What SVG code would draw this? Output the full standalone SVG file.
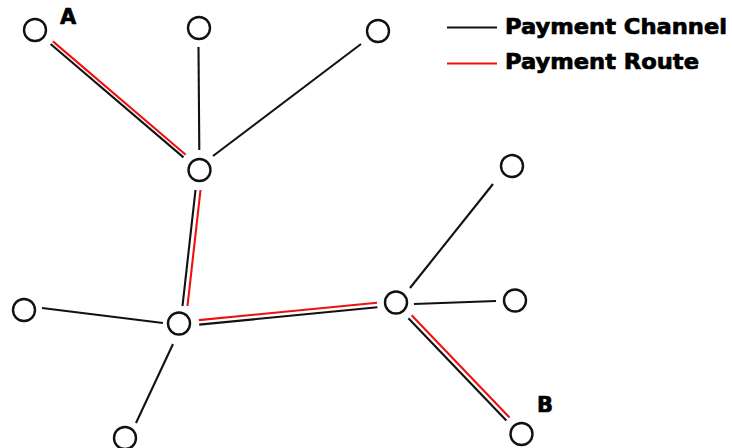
<svg xmlns="http://www.w3.org/2000/svg" width="732" height="448" viewBox="0 0 732 448">
  <style>
    .node { fill: #ffffff; stroke: #111111; stroke-width: 2.4; }
    .chan { stroke: #111111; stroke-width: 2.1; fill: none; stroke-linecap: butt; }
    .route { stroke: #f01010; stroke-width: 2.1; fill: none; stroke-linecap: butt; }
    .lbl { font-family: "DejaVu Sans", "Liberation Sans", sans-serif; font-weight: bold; font-size: 21px; fill: #000000; stroke: #000000; stroke-width: 0.7; stroke-linejoin: round; }
  </style>
  <rect width="732" height="448" fill="#ffffff"/>

  <!-- connectors: channels (black) and the payment route (red, drawn beside its channel) -->
  <g id="connectors">
    <!-- A to hub 1 -->
    <line class="chan" x1="50.6" y1="44.0" x2="183.5" y2="157.4"/>
    <line class="route" x1="52.9" y1="41.4" x2="185.7" y2="154.7"/>
    <!-- top nodes to hub 1 -->
    <line class="chan" x1="198.5" y1="47" x2="199.3" y2="150"/>
    <line class="chan" x1="361" y1="44" x2="213" y2="156"/>
    <!-- hub 1 to hub 2 -->
    <line class="chan" x1="195.5" y1="190" x2="182.5" y2="306"/>
    <line class="route" x1="200.5" y1="190" x2="187.5" y2="306"/>
    <!-- hub 2 leaves -->
    <line class="chan" x1="163" y1="323" x2="42" y2="308"/>
    <line class="chan" x1="173" y1="344" x2="136" y2="423"/>
    <!-- hub 2 to hub 3 -->
    <line class="chan" x1="199.2" y1="324.6" x2="377.4" y2="307.3"/>
    <line class="route" x1="198.8" y1="320.1" x2="377.0" y2="302.8"/>
    <!-- hub 3 leaves -->
    <line class="chan" x1="414" y1="304" x2="496" y2="301"/>
    <line class="chan" x1="410" y1="288" x2="493" y2="184"/>
    <!-- hub 3 to B -->
    <line class="chan" x1="408.4" y1="318.3" x2="506.3" y2="420.5"/>
    <line class="route" x1="411.6" y1="315.2" x2="509.5" y2="417.4"/>
  </g>

  <g id="node-a"><circle class="node" cx="35" cy="30" r="11"/><text class="lbl" x="60" y="23.5">A</text></g>
  <g id="node-top-mid"><circle class="node" cx="199" cy="28" r="11"/></g>
  <g id="node-top-right"><circle class="node" cx="378" cy="31" r="11"/></g>
  <g id="hub-1"><circle class="node" cx="199.5" cy="170" r="11"/></g>
  <g id="hub-2"><circle class="node" cx="179" cy="323.5" r="11"/></g>
  <g id="node-left"><circle class="node" cx="24" cy="310" r="11"/></g>
  <g id="node-bottom-left"><circle class="node" cx="125" cy="438" r="11"/></g>
  <g id="hub-3"><circle class="node" cx="396" cy="302.5" r="11"/></g>
  <g id="node-upper-right"><circle class="node" cx="512" cy="166" r="11"/></g>
  <g id="node-right"><circle class="node" cx="515" cy="300.5" r="11"/></g>
  <g id="node-b"><circle class="node" cx="521.5" cy="434" r="11"/><text class="lbl" x="537" y="412">B</text></g>

  <!-- legend -->
  <g id="legend">
    <line class="chan" x1="447" y1="27.5" x2="497" y2="27.5"/>
    <text class="lbl" x="505" y="33.5" textLength="222" lengthAdjust="spacingAndGlyphs">Payment Channel</text>
    <line class="route" x1="447" y1="63.5" x2="497" y2="63.5"/>
    <text class="lbl" x="505" y="69" textLength="194" lengthAdjust="spacingAndGlyphs">Payment Route</text>
  </g>
</svg>
